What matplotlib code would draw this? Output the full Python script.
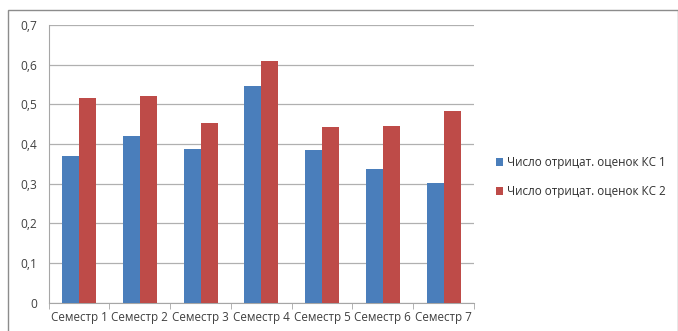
import matplotlib
matplotlib.use("Agg")
import matplotlib.pyplot as plt
import numpy as np
from matplotlib.patches import Rectangle

plt.rcParams['font.family'] = ['Open Sans', 'DejaVu Sans']

categories = ["Семестр 1", "Семестр 2", "Семестр 3", "Семестр 4",
              "Семестр 5", "Семестр 6", "Семестр 7"]
series1_name = "Число отрицат. оценок КС 1"
series2_name = "Число отрицат. оценок КС 2"
series1 = [0.37, 0.42, 0.388, 0.545, 0.385, 0.337, 0.301]
series2 = [0.515, 0.52, 0.453, 0.608, 0.444, 0.445, 0.482]
yticks = [0, 0.1, 0.2, 0.3, 0.4, 0.5, 0.6, 0.7]
ytick_labels = ["0", "0,1", "0,2", "0,3", "0,4", "0,5", "0,6", "0,7"]

blue = "#4a7ebb"
red = "#be4b48"

fig = plt.figure(figsize=(6.78, 3.31), dpi=100)
W, H = 678, 331

# outer chart frame
fig.patches.append(Rectangle((8 / W, -0.01), (W - 8.5) / W, (H - 10) / H + 0.01,
                             transform=fig.transFigure, fill=False,
                             edgecolor="#8c8c8c", linewidth=1.0))

ax = fig.add_axes([48.7 / W, 1 - 302.7 / H, (474 - 48.7) / W, (302.7 - 25) / H])

x = np.arange(len(categories))
w = 0.28
ax.bar(x - w / 2, series1, width=w, color=blue, label=series1_name, zorder=3)
ax.bar(x + w / 2, series2, width=w, color=red, label=series2_name, zorder=3)

ax.set_xlim(-0.5, len(categories) - 0.5)
ax.set_ylim(0, 0.7)
ax.set_yticks(yticks)
ax.set_yticklabels(ytick_labels)
ax.set_xticks(x)
ax.set_xticklabels(categories)
ax.set_xticks(np.arange(-0.5, len(categories)), minor=True)

ax.grid(axis="y", color="#b0b0b0", linewidth=0.9, zorder=0)
for s in ["top", "right"]:
    ax.spines[s].set_visible(False)
ax.spines["left"].set_color("#a6a6a6")
ax.spines["bottom"].set_color("#a6a6a6")
ax.tick_params(axis="y", length=0, pad=8, labelsize=8.6, labelcolor="#404040")
ax.tick_params(axis="x", which="major", length=0, pad=6, labelsize=8.4, labelcolor="#404040")
ax.tick_params(axis="x", which="minor", length=4, color="#a6a6a6")

ax.legend(loc="center left", bbox_to_anchor=(485 / W, 1 - 177 / H),
          bbox_transform=fig.transFigure, frameon=False, fontsize=8.4,
          handlelength=0.65, handleheight=0.65, handletextpad=0.35,
          labelspacing=1.4, labelcolor="#303030")

fig.savefig("out.png", dpi=100)
